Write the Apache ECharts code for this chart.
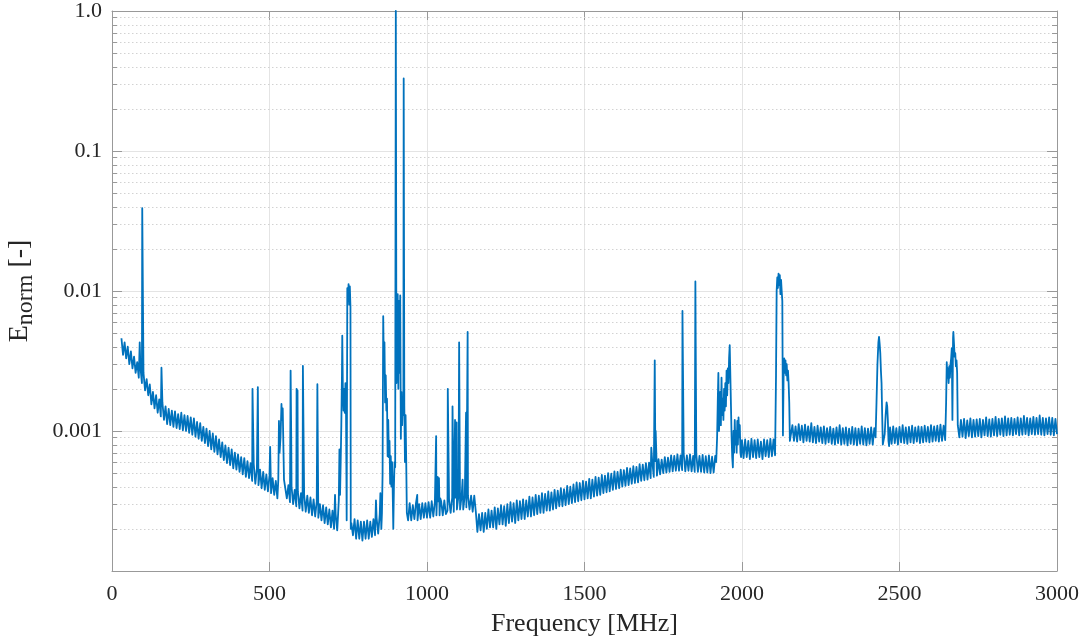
<!DOCTYPE html>
<html>
<head>
<meta charset="utf-8">
<title>Normalized field spectrum</title>
<script src="https://cdn.jsdelivr.net/npm/echarts@6/dist/echarts.min.js"></script>
<style>
  html, body { margin: 0; padding: 0; background: #ffffff; }
  #chart { width: 1086px; height: 638px; }
</style>
</head>
<body>
<div id="chart"></div>
<script>
// Frequency axis ticks (MHz) and decade labels of the normalized field
const xTicks = [0, 500, 1000, 1500, 2000, 2500, 3000];
const yDecadeLabels = ['', '0.001', '0.01', '0.1', '1.0']; // 1e-4 ... 1
const minorTicks = [
  2e-4, 3e-4, 4e-4, 5e-4, 6e-4, 7e-4, 8e-4, 9e-4,
  2e-3, 3e-3, 4e-3, 5e-3, 6e-3, 7e-3, 8e-3, 9e-3,
  2e-2, 3e-2, 4e-2, 5e-2, 6e-2, 7e-2, 8e-2, 9e-2,
  0.2, 0.3, 0.4, 0.5, 0.6, 0.7, 0.8, 0.9
];

// Noise floor samples, 5 MHz apart, alternating between the top and bottom of the trace
const floorStep = 5;
const floor030 = [ // 30 ... 525 MHz
  4.6e-3, 3.5e-3, 4.3e-3, 3.3e-3, 4.0e-3, 3.0e-3, 3.7e-3, 2.8e-3, 3.4e-3, 2.6e-3,
  3.1e-3, 2.4e-3, 2.9e-3, 2.2e-3, 2.6e-3, 1.95e-3, 2.35e-3, 1.8e-3, 2.15e-3, 1.55e-3,
  1.9e-3, 1.45e-3, 1.8e-3, 1.35e-3, 1.68e-3, 1.27e-3, 1.6e-3, 1.2e-3, 1.5e-3, 1.12e-3,
  1.44e-3, 1.1e-3, 1.4e-3, 1.07e-3, 1.38e-3, 1.05e-3, 1.32e-3, 1.03e-3, 1.35e-3, 1.01e-3,
  1.3e-3, 1.0e-3, 1.28e-3, 9.7e-4, 1.25e-3, 9.4e-4, 1.23e-3, 9.1e-4, 1.16e-3, 8.8e-4,
  1.14e-3, 8.5e-4, 1.07e-3, 8.2e-4, 1.04e-3, 7.8e-4, 1.0e-3, 7.4e-4, 9.6e-4, 7.1e-4,
  9.2e-4, 6.8e-4, 8.7e-4, 6.5e-4, 8.3e-4, 6.2e-4, 7.9e-4, 5.9e-4, 7.6e-4, 5.7e-4,
  7.4e-4, 5.4e-4, 7.0e-4, 5.3e-4, 6.8e-4, 5.1e-4, 6.5e-4, 4.9e-4, 6.4e-4, 4.7e-4,
  6.1e-4, 4.6e-4, 5.9e-4, 4.4e-4, 5.8e-4, 4.2e-4, 5.4e-4, 4.1e-4, 5.3e-4, 3.9e-4,
  5.1e-4, 3.8e-4, 4.9e-4, 3.7e-4, 4.8e-4, 3.6e-4, 4.6e-4, 3.5e-4, 4.4e-4, 3.3e-4
];
const floor550 = [ // 550 ... 715 MHz
  4.4e-4, 3.3e-4, 4.1e-4, 3.1e-4, 4.0e-4, 3.0e-4, 3.8e-4, 2.9e-4, 3.7e-4, 2.8e-4,
  3.6e-4, 2.7e-4, 3.5e-4, 2.65e-4, 3.45e-4, 2.6e-4, 3.35e-4, 2.5e-4, 3.25e-4, 2.45e-4,
  3.15e-4, 2.4e-4, 3.0e-4, 2.3e-4, 2.95e-4, 2.2e-4, 2.85e-4, 2.15e-4, 2.75e-4, 2.05e-4,
  2.7e-4, 2.0e-4, 2.55e-4, 1.95e-4
];
const floor765 = [ // 765 ... 855 MHz
  1.8e-4, 2.35e-4, 1.7e-4, 2.3e-4, 1.7e-4, 2.25e-4, 1.65e-4, 2.25e-4, 1.7e-4, 2.3e-4,
  1.7e-4, 2.25e-4, 1.75e-4, 2.35e-4, 1.8e-4, 2.4e-4, 1.85e-4, 2.55e-4, 2.0e-4
];
const floor940 = [ // 940 ... 1155 MHz
  2.3e-4, 3.05e-4, 2.3e-4, 2.95e-4, 2.35e-4, 3.05e-4, 2.3e-4, 3.0e-4, 2.35e-4, 3.05e-4,
  2.4e-4, 3.05e-4, 2.4e-4, 3.1e-4, 2.4e-4, 3.15e-4, 2.45e-4, 3.1e-4, 2.5e-4, 3.15e-4,
  2.5e-4, 3.15e-4, 2.5e-4, 3.2e-4, 2.55e-4, 2.7e-4, 3.25e-4, 2.6e-4, 3.35e-4, 2.65e-4,
  3.35e-4, 2.75e-4, 3.45e-4, 2.75e-4, 3.45e-4, 2.75e-4, 3.45e-4, 2.85e-4, 3.45e-4, 2.75e-4,
  3.45e-4, 2.65e-4, 3.45e-4, 2.65e-4
];
const floor1160 = [ // 1160 ... 1915 MHz
  1.9e-4, 2.55e-4, 1.95e-4, 2.6e-4, 1.9e-4, 2.6e-4, 2.0e-4, 2.75e-4, 2.05e-4, 2.7e-4,
  2.05e-4, 2.85e-4, 2.0e-4, 2.8e-4, 2.15e-4, 2.95e-4, 2.15e-4, 2.9e-4, 2.1e-4, 3.0e-4,
  2.2e-4, 3.1e-4, 2.25e-4, 3.05e-4, 2.2e-4, 3.2e-4, 2.3e-4, 3.15e-4, 2.35e-4, 3.25e-4,
  2.35e-4, 3.2e-4, 2.45e-4, 3.4e-4, 2.45e-4, 3.35e-4, 2.5e-4, 3.5e-4, 2.55e-4, 3.45e-4,
  2.6e-4, 3.6e-4, 2.6e-4, 3.55e-4, 2.7e-4, 3.7e-4, 2.7e-4, 3.65e-4, 2.75e-4, 3.8e-4,
  2.8e-4, 3.75e-4, 2.9e-4, 3.9e-4, 2.9e-4, 3.85e-4, 2.95e-4, 4.05e-4, 3.0e-4, 4.0e-4,
  3.05e-4, 4.15e-4, 3.1e-4, 4.3e-4, 3.15e-4, 4.25e-4, 3.2e-4, 4.4e-4, 3.25e-4, 4.35e-4,
  3.3e-4, 4.55e-4, 3.3e-4, 4.5e-4, 3.4e-4, 4.7e-4, 3.45e-4, 4.65e-4, 3.5e-4, 4.85e-4,
  3.6e-4, 4.8e-4, 3.65e-4, 5.0e-4, 3.7e-4, 4.95e-4, 3.8e-4, 5.15e-4, 3.85e-4, 5.1e-4,
  3.9e-4, 5.3e-4, 4.0e-4, 5.25e-4, 4.05e-4, 5.45e-4, 4.1e-4, 5.4e-4, 4.2e-4, 5.6e-4,
  4.25e-4, 5.55e-4, 4.3e-4, 5.8e-4, 4.4e-4, 5.75e-4, 4.45e-4, 5.9e-4, 4.5e-4, 5.95e-4,
  4.6e-4, 6.1e-4, 4.7e-4, 6.1e-4, 4.8e-4, 6.3e-4, 4.9e-4, 6.25e-4, 5.0e-4, 6.5e-4,
  5.05e-4, 6.45e-4, 5.1e-4, 6.7e-4, 5.15e-4, 6.65e-4, 5.2e-4, 6.8e-4, 5.2e-4, 6.7e-4,
  5.25e-4, 6.85e-4, 5.15e-4, 6.7e-4, 5.2e-4, 6.8e-4, 5.15e-4, 6.65e-4, 5.1e-4, 6.8e-4,
  5.1e-4, 6.65e-4, 5.1e-4, 6.75e-4, 5.05e-4, 6.6e-4, 5.05e-4, 6.7e-4, 5.0e-4, 6.55e-4,
  5.05e-4, 6.65e-4
];
const floor2000 = [ // 2000 ... 2105 MHz
  8.6e-4, 6.4e-4, 8.7e-4, 6.5e-4, 8.5e-4, 6.3e-4, 8.8e-4, 6.5e-4, 8.6e-4, 6.4e-4,
  8.7e-4, 6.5e-4, 8.4e-4, 6.3e-4, 8.7e-4, 6.6e-4, 8.6e-4, 6.5e-4, 8.8e-4, 6.6e-4,
  8.7e-4, 6.7e-4
];
const floor2155 = [ // 2155 ... 2420 MHz
  8.3e-4, 1.1e-3, 8.5e-4, 1.08e-3, 8.4e-4, 1.12e-3, 8.6e-4, 1.09e-3, 8.3e-4, 1.11e-3,
  8.5e-4, 1.08e-3, 8.4e-4, 1.14e-3, 8.3e-4, 1.07e-3, 8.2e-4, 1.09e-3, 8.4e-4, 1.06e-3,
  8.2e-4, 1.08e-3, 8.1e-4, 1.05e-3, 8.3e-4, 1.07e-3, 8.1e-4, 1.04e-3, 8.0e-4, 1.06e-3,
  8.2e-4, 1.1e-3, 8.0e-4, 1.05e-3, 8.1e-4, 1.06e-3, 7.9e-4, 1.04e-3, 8.1e-4, 1.07e-3,
  8.0e-4, 1.05e-3, 7.9e-4, 1.04e-3, 8.1e-4, 1.08e-3, 8.0e-4, 1.05e-3, 7.9e-4, 1.04e-3,
  8.1e-4, 1.06e-3, 8.0e-4, 1.05e-3
];
const floor2470 = [ // 2470 ... 2645 MHz
  1.06e-3, 8.1e-4, 1.08e-3, 8.2e-4, 1.05e-3, 8.0e-4, 1.07e-3, 8.3e-4, 1.1e-3, 8.2e-4,
  1.06e-3, 8.1e-4, 1.07e-3, 8.3e-4, 1.09e-3, 8.2e-4, 1.06e-3, 8.4e-4, 1.08e-3, 8.2e-4,
  1.07e-3, 8.3e-4, 1.09e-3, 8.4e-4, 1.07e-3, 8.3e-4, 1.1e-3, 8.4e-4, 1.08e-3, 8.5e-4,
  1.09e-3, 8.4e-4, 1.11e-3, 8.5e-4, 1.09e-3, 8.6e-4
];
const floor2690 = [ // 2690 ... 3000 MHz
  9.0e-4, 1.2e-3, 9.1e-4, 1.22e-3, 8.9e-4, 1.19e-3, 9.2e-4, 1.23e-3, 9.0e-4, 1.2e-3,
  9.1e-4, 1.21e-3, 9.2e-4, 1.22e-3, 9.0e-4, 1.2e-3, 9.3e-4, 1.25e-3, 9.2e-4, 1.21e-3,
  9.1e-4, 1.22e-3, 9.3e-4, 1.26e-3, 9.2e-4, 1.22e-3, 9.4e-4, 1.23e-3, 9.2e-4, 1.27e-3,
  9.3e-4, 1.23e-3, 9.4e-4, 1.24e-3, 9.3e-4, 1.22e-3, 9.5e-4, 1.25e-3, 9.3e-4, 1.23e-3,
  9.4e-4, 1.28e-3, 9.5e-4, 1.24e-3, 9.3e-4, 1.23e-3, 9.5e-4, 1.26e-3, 9.4e-4, 1.24e-3,
  9.5e-4, 1.29e-3, 9.4e-4, 1.24e-3, 9.3e-4, 1.23e-3, 9.5e-4, 1.25e-3, 9.4e-4, 1.24e-3,
  9.3e-4, 1.22e-3, 9.5e-4
];
const floorSegments = [
  [30, floor030], [550, floor550], [765, floor765], [940, floor940],
  [1160, floor1160], [2000, floor2000], [2155, floor2155], [2470, floor2470], [2690, floor2690]
];

// Emission bands above the floor: [MHz, E_norm]
const band530 = [
  [528, 4.5e-4], [530, 1.18e-3], [532, 7.0e-4], [535, 9.0e-4], [538, 1.56e-3],
  [540, 1.2e-3], [542, 1.45e-3], [544, 8.0e-4], [546, 4.5e-4]
];
const band730 = [
  [718, 2.6e-4], [720, 3.2e-4], [722, 7.4e-4], [724, 3.5e-4], [726, 6.0e-4], [728, 1.1e-3],
  [730, 2.5e-3], [731, 4.8e-3], [733, 1.9e-3], [735, 1.4e-3], [737, 2.0e-3], [739, 1.35e-3],
  [741, 2.2e-3], [743, 1.3e-3], [745, 2.3e-4], [747, 1.05e-2], [749, 8.5e-3], [751, 1.12e-2],
  [753, 8.0e-3], [755, 1.08e-2], [757, 7.7e-3], [758, 2.0e-4], [760, 2.2e-4]
];
const band900 = [
  [857, 2.6e-4], [859, 5.0e-4], [861, 6.6e-3], [863, 3.0e-3], [865, 4.3e-3], [867, 1.6e-3],
  [869, 2.5e-3], [871, 1.4e-3], [873, 1.7e-3], [875, 6.6e-4], [877, 1.2e-3], [879, 6.5e-4],
  [881, 8.5e-4], [883, 4.2e-4], [885, 6.6e-4], [887, 4.0e-4], [889, 6.0e-4], [891, 3.8e-4],
  [893, 2.0e-4], [895, 4.0e-4], [897, 6.0e-4], [899, 5.5e-4], [901, 1.0], [903, 2.2e-3],
  [905, 3.8e-3], [907, 9.5e-3], [909, 2.0e-3], [911, 8.5e-3], [913, 2.6e-3], [915, 9.3e-3],
  [917, 8.8e-4], [919, 1.9e-3], [921, 1.1e-3], [923, 1.6e-3], [925, 1.3e-3], [926, 0.33],
  [928, 1.5e-3], [930, 6.0e-4], [932, 1.3e-3], [934, 6.2e-4], [936, 2.6e-4]
];
const band1950 = [
  [1918, 6.0e-4], [1921, 9.0e-4], [1923, 1.6e-3], [1925, 2.6e-3], [1927, 1.0e-3], [1929, 1.3e-3],
  [1931, 1.9e-3], [1933, 1.1e-3], [1935, 2.4e-3], [1937, 1.3e-3], [1939, 1.7e-3], [1941, 1.2e-3],
  [1943, 2.0e-3], [1945, 1.4e-3], [1947, 2.2e-3], [1949, 1.5e-3], [1951, 2.7e-3], [1953, 1.8e-3],
  [1955, 2.8e-3], [1957, 2.2e-3], [1959, 3.3e-3], [1961, 4.1e-3], [1963, 2.5e-3], [1965, 1.5e-3],
  [1967, 9.0e-4], [1969, 6.5e-4], [1971, 5.5e-4], [1973, 1.0e-3], [1975, 7.0e-4], [1977, 1.2e-3],
  [1979, 8.0e-4], [1981, 1.0e-3], [1983, 7.0e-4], [1985, 1.18e-3], [1987, 8.0e-4], [1989, 1.25e-3],
  [1991, 9.0e-4], [1993, 1.1e-3], [1995, 7.0e-4], [1997, 6.5e-4]
];
const band2120 = [
  [2108, 2.5e-3], [2110, 1.0e-2], [2112, 1.25e-2], [2114, 1.05e-2], [2116, 1.33e-2], [2118, 1.1e-2],
  [2120, 1.3e-2], [2122, 9.5e-3], [2124, 1.2e-2], [2126, 1.0e-2], [2128, 8.5e-3], [2130, 9.3e-4],
  [2132, 2.4e-3], [2134, 3.3e-3], [2136, 2.6e-3], [2138, 3.2e-3], [2140, 2.5e-3], [2142, 3.0e-3],
  [2144, 2.3e-3], [2146, 2.7e-3], [2148, 2.2e-3], [2150, 1.6e-3], [2152, 8.5e-4]
];
const band2440 = [
  [2424, 9.0e-4], [2427, 1.6e-3], [2430, 3.0e-3], [2433, 4.3e-3], [2435, 4.7e-3], [2437, 4.2e-3],
  [2439, 3.6e-3], [2441, 2.7e-3], [2443, 2.2e-3], [2445, 1.3e-3], [2447, 8.0e-4], [2450, 7.8e-4],
  [2453, 9.5e-4], [2456, 1.3e-3], [2459, 1.6e-3], [2461, 1.5e-3], [2463, 1.2e-3], [2465, 8.5e-4],
  [2467, 7.8e-4]
];
const band2665 = [
  [2648, 1.6e-3], [2650, 3.1e-3], [2652, 2.4e-3], [2654, 2.8e-3], [2656, 2.2e-3], [2658, 2.9e-3],
  [2660, 2.4e-3], [2662, 3.0e-3], [2664, 3.3e-3], [2666, 3.9e-3], [2668, 1.2e-3], [2670, 4.6e-3],
  [2671, 5.1e-3], [2673, 4.2e-3], [2675, 3.4e-3], [2677, 3.6e-3], [2679, 2.9e-3], [2681, 3.2e-3],
  [2683, 2.6e-3], [2685, 1.1e-3]
];

// Narrow carriers: [MHz, E_norm]
const carriers = [
  [88, 4.3e-3], [96, 3.9e-2], [157, 2.83e-3], [446, 2.0e-3], [463, 2.06e-3], [502, 7.7e-4],
  [567, 2.7e-3], [569, 9.0e-4], [586, 2.0e-3], [588, 6.0e-4], [589, 1.95e-3], [606, 2.92e-3],
  [652, 2.16e-3], [708, 3.5e-4], [838, 3.2e-4], [852, 3.6e-4], [969, 3.5e-4], [1029, 9.2e-4],
  [1034, 4.7e-4], [1038, 4.6e-4], [1042, 3.3e-4], [1066, 2.0e-3], [1081, 1.5e-3], [1089, 1.2e-3],
  [1094, 1.15e-3], [1102, 4.3e-3], [1113, 4.5e-4], [1124, 1.35e-3], [1129, 5.1e-3], [1712, 7.6e-4],
  [1723, 3.2e-3], [1726, 1.0e-3], [1811, 7.2e-3], [1852, 1.17e-2]
];

// Assemble the full trace, ordered by frequency
const trace = [];
floorSegments.forEach(([start, vals]) => {
  vals.forEach((v, i) => trace.push([start + i * floorStep, v]));
});
[band530, band730, band900, band1950, band2120, band2440, band2665, carriers]
  .forEach(list => list.forEach(p => trace.push(p)));
trace.sort((a, b) => a[0] - b[0]);

const FONT = '"Liberation Serif", "Times New Roman", serif';
const TEXT = '#262626';
const FRAME = '#999999';

const chart = echarts.init(document.getElementById('chart'), null, { renderer: 'canvas' });

const logAxisBase = { type: 'log', logBase: 10, min: 1e-4, max: 1 };

chart.setOption({
  animation: false,
  backgroundColor: '#ffffff',
  grid: { left: 112, right: 29, top: 11, bottom: 67, containLabel: false, outerBoundsMode: 'none' },
  xAxis: [
    {
      type: 'value', position: 'bottom', min: xTicks[0], max: xTicks[xTicks.length - 1], interval: 500,
      axisLine: { show: true, onZero: false, lineStyle: { color: FRAME, width: 1 } },
      axisTick: { show: true, inside: true, length: 9, lineStyle: { color: FRAME } },
      axisLabel: {
        fontFamily: FONT, fontSize: 22, color: TEXT, margin: 12,
        showMinLabel: true, showMaxLabel: true, formatter: v => String(v)
      },
      splitLine: { show: true, lineStyle: { color: '#e4e4e4', width: 1 } },
      name: 'Frequency [MHz]', nameLocation: 'middle', nameGap: 40,
      nameTextStyle: { fontFamily: FONT, fontSize: 26, color: TEXT }
    },
    {
      type: 'value', position: 'top', min: xTicks[0], max: xTicks[xTicks.length - 1], interval: 500,
      axisLine: { show: true, onZero: false, lineStyle: { color: FRAME, width: 1 } },
      axisTick: { show: true, inside: true, length: 9, lineStyle: { color: FRAME } },
      axisLabel: { show: false }, splitLine: { show: false }
    }
  ],
  yAxis: [
    Object.assign({}, logAxisBase, {
      position: 'left',
      axisLine: { show: true, onZero: false, lineStyle: { color: FRAME, width: 1 } },
      axisTick: { show: true, inside: true, length: 10, lineStyle: { color: FRAME } },
      axisLabel: {
        fontFamily: FONT, fontSize: 22, color: TEXT, margin: 10,
        formatter: v => yDecadeLabels[Math.round(Math.log10(v)) + 4] || ''
      },
      splitLine: { show: true, lineStyle: { color: '#e4e4e4', width: 1 } },
      name: '{e|E}{s|norm}{e| [-]}', nameLocation: 'middle', nameGap: 76,
      nameTextStyle: {
        fontFamily: FONT, color: TEXT,
        rich: {
          e: { fontFamily: FONT, fontSize: 28, color: TEXT, lineHeight: 32 },
          s: { fontFamily: FONT, fontSize: 24, color: TEXT, lineHeight: 32, padding: [12, 0, 0, 0] }
        }
      }
    }),
    Object.assign({}, logAxisBase, {
      position: 'right',
      axisLine: { show: true, onZero: false, lineStyle: { color: FRAME, width: 1 } },
      axisTick: { show: true, inside: true, length: 10, lineStyle: { color: FRAME } },
      axisLabel: { show: false }, splitLine: { show: false }
    })
  ],
  series: [
    {
      // dotted minor grid plus short minor ticks on both vertical edges
      type: 'custom', z: 1, silent: true, xAxisIndex: 0, yAxisIndex: 0,
      data: minorTicks.map(v => [0, v]),
      encode: { x: 0, y: 1 },
      renderItem: (params, api) => {
        const cs = params.coordSys;
        const y = Math.round(api.coord([0, api.value(1)])[1]) + 0.5;
        const x0 = cs.x, x1 = cs.x + cs.width;
        return {
          type: 'group',
          children: [
            { type: 'line', shape: { x1: x0, y1: y, x2: x1, y2: y },
              style: { stroke: '#d2d2d2', lineWidth: 1, lineDash: [1.5, 2.5] } },
            { type: 'line', shape: { x1: x0, y1: y, x2: x0 + 5, y2: y },
              style: { stroke: FRAME, lineWidth: 1 } },
            { type: 'line', shape: { x1: x1 - 5, y1: y, x2: x1, y2: y },
              style: { stroke: FRAME, lineWidth: 1 } }
          ]
        };
      }
    },
    {
      type: 'line', z: 3, xAxisIndex: 0, yAxisIndex: 0,
      data: trace, showSymbol: false, symbol: 'none', sampling: 'none', smooth: false,
      lineStyle: { color: '#0072BD', width: 1.8, join: 'round' },
      emphasis: { disabled: true }
    }
  ]
});
</script>
</body>
</html>
